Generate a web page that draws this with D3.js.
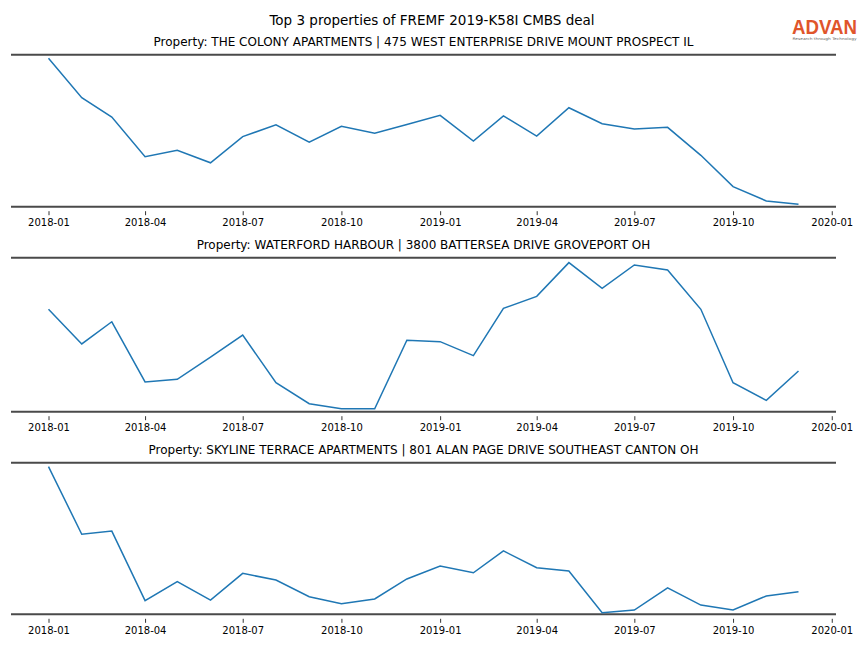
<!DOCTYPE html>
<html><head><meta charset="utf-8">
<script src="https://cdn.jsdelivr.net/npm/d3@7"></script>
<style>body{margin:0;background:#fff;}svg{display:block;font-family:"DejaVu Sans",sans-serif;}</style>
</head><body>
<svg id="c" width="864" height="648"></svg>
<script>
const months = ["2018-01","2018-02","2018-03","2018-04","2018-05","2018-06","2018-07","2018-08","2018-09","2018-10","2018-11","2018-12",
"2019-01","2019-02","2019-03","2019-04","2019-05","2019-06","2019-07","2019-08","2019-09","2019-10","2019-11","2019-12"];
const tickLabels = ["2018-01","2018-04","2018-07","2018-10","2019-01","2019-04","2019-07","2019-10","2020-01"];
const titles = [
 "Property: THE COLONY APARTMENTS | 475 WEST ENTERPRISE DRIVE MOUNT PROSPECT IL",
 "Property: WATERFORD HARBOUR | 3800 BATTERSEA DRIVE GROVEPORT OH",
 "Property: SKYLINE TERRACE APARTMENTS | 801 ALAN PAGE DRIVE SOUTHEAST CANTON OH"
];
const colony = [97.6,71.7,59.0,32.9,37.1,28.9,46.1,53.9,42.4,52.9,48.3,54.1,60.1,43.2,59.7,46.5,65.1,54.6,51.1,52.2,33.8,13.2,3.8,1.6];
const waterford = [66.5,44.0,58.4,19.3,21.0,35.5,49.8,18.8,5.2,1.9,1.9,46.4,45.5,36.4,67.1,74.9,96.8,80.1,95.3,92.0,66.5,18.8,7.4,26.4];
const skyline = [97.4,52.8,54.9,9.0,21.5,9.4,27.0,22.6,11.6,7.0,10.1,23.3,31.9,27.4,41.8,30.7,28.6,1.1,2.8,17.5,6.1,2.8,12.1,14.9];
const series = [colony, waterford, skyline];

const svg = d3.select("#c");
const parse = d3.timeParse("%Y-%m");
const dates = months.map(parse);
const t0 = dates[0], t1 = dates[dates.length-1];
const span = t1 - t0;
const left = 11, right = 836;
const x = d3.scaleTime().domain([new Date(+t0 - span*0.05), new Date(+t1 + span*0.05)]).range([left, right]);

svg.append("text").attr("x",432).attr("y",24.5).attr("text-anchor","middle")
  .attr("font-size",13.5).attr("fill","#000").text("Top 3 properties of FREMF 2019-K58I CMBS deal");

// logo
svg.append("text").attr("x",824.5).attr("y",34).attr("text-anchor","middle")
  .attr("font-family","Liberation Sans, Arial, sans-serif").attr("font-weight","bold").attr("font-size",20).attr("fill","#e0552b")
  .attr("textLength",65).attr("lengthAdjust","spacingAndGlyphs").text("ADVAN");
svg.append("text").attr("x",824.5).attr("y",39.5).attr("text-anchor","middle")
  .attr("font-size",3.6).attr("fill","#666").attr("textLength",64).attr("lengthAdjust","spacingAndGlyphs").text("Research through Technology");

const tops = [54.7, 257.7, 462.7];
const heights = [152, 154, 151.6];
series.forEach((vals, i) => {
  const top = tops[i], bot = top + heights[i];
  const y = d3.scaleLinear().domain([0,100]).range([bot, top]);
  const g = svg.append("g");
  g.append("text").attr("x",(left+right)/2).attr("y",top-8.5).attr("text-anchor","middle")
    .attr("font-size",12).attr("fill","#000").text(titles[i]);
  g.append("line").attr("x1",left).attr("x2",right).attr("y1",top).attr("y2",top).attr("stroke","#4a4a4a").attr("stroke-width",2);
  g.append("line").attr("x1",left).attr("x2",right).attr("y1",bot).attr("y2",bot).attr("stroke","#4a4a4a").attr("stroke-width",2);
  const ax = d3.axisBottom(x).tickValues(tickLabels.map(parse)).tickFormat(d3.timeFormat("%Y-%m")).tickSize(4).tickPadding(4);
  const ag = g.append("g").attr("transform",`translate(0,${bot+4.5})`).call(ax);
  ag.select(".domain").remove();
  ag.selectAll(".tick line").attr("stroke","#000").attr("stroke-width",0.8);
  ag.selectAll(".tick text").attr("font-size",10).attr("font-family","DejaVu Sans").attr("fill","#000");
  const line = d3.line().x((d,j)=>x(dates[j])).y(d=>y(d));
  g.append("path").datum(vals).attr("d",line).attr("fill","none").attr("stroke","#1f77b4").attr("stroke-width",1.5);
});
</script>
</body></html>
